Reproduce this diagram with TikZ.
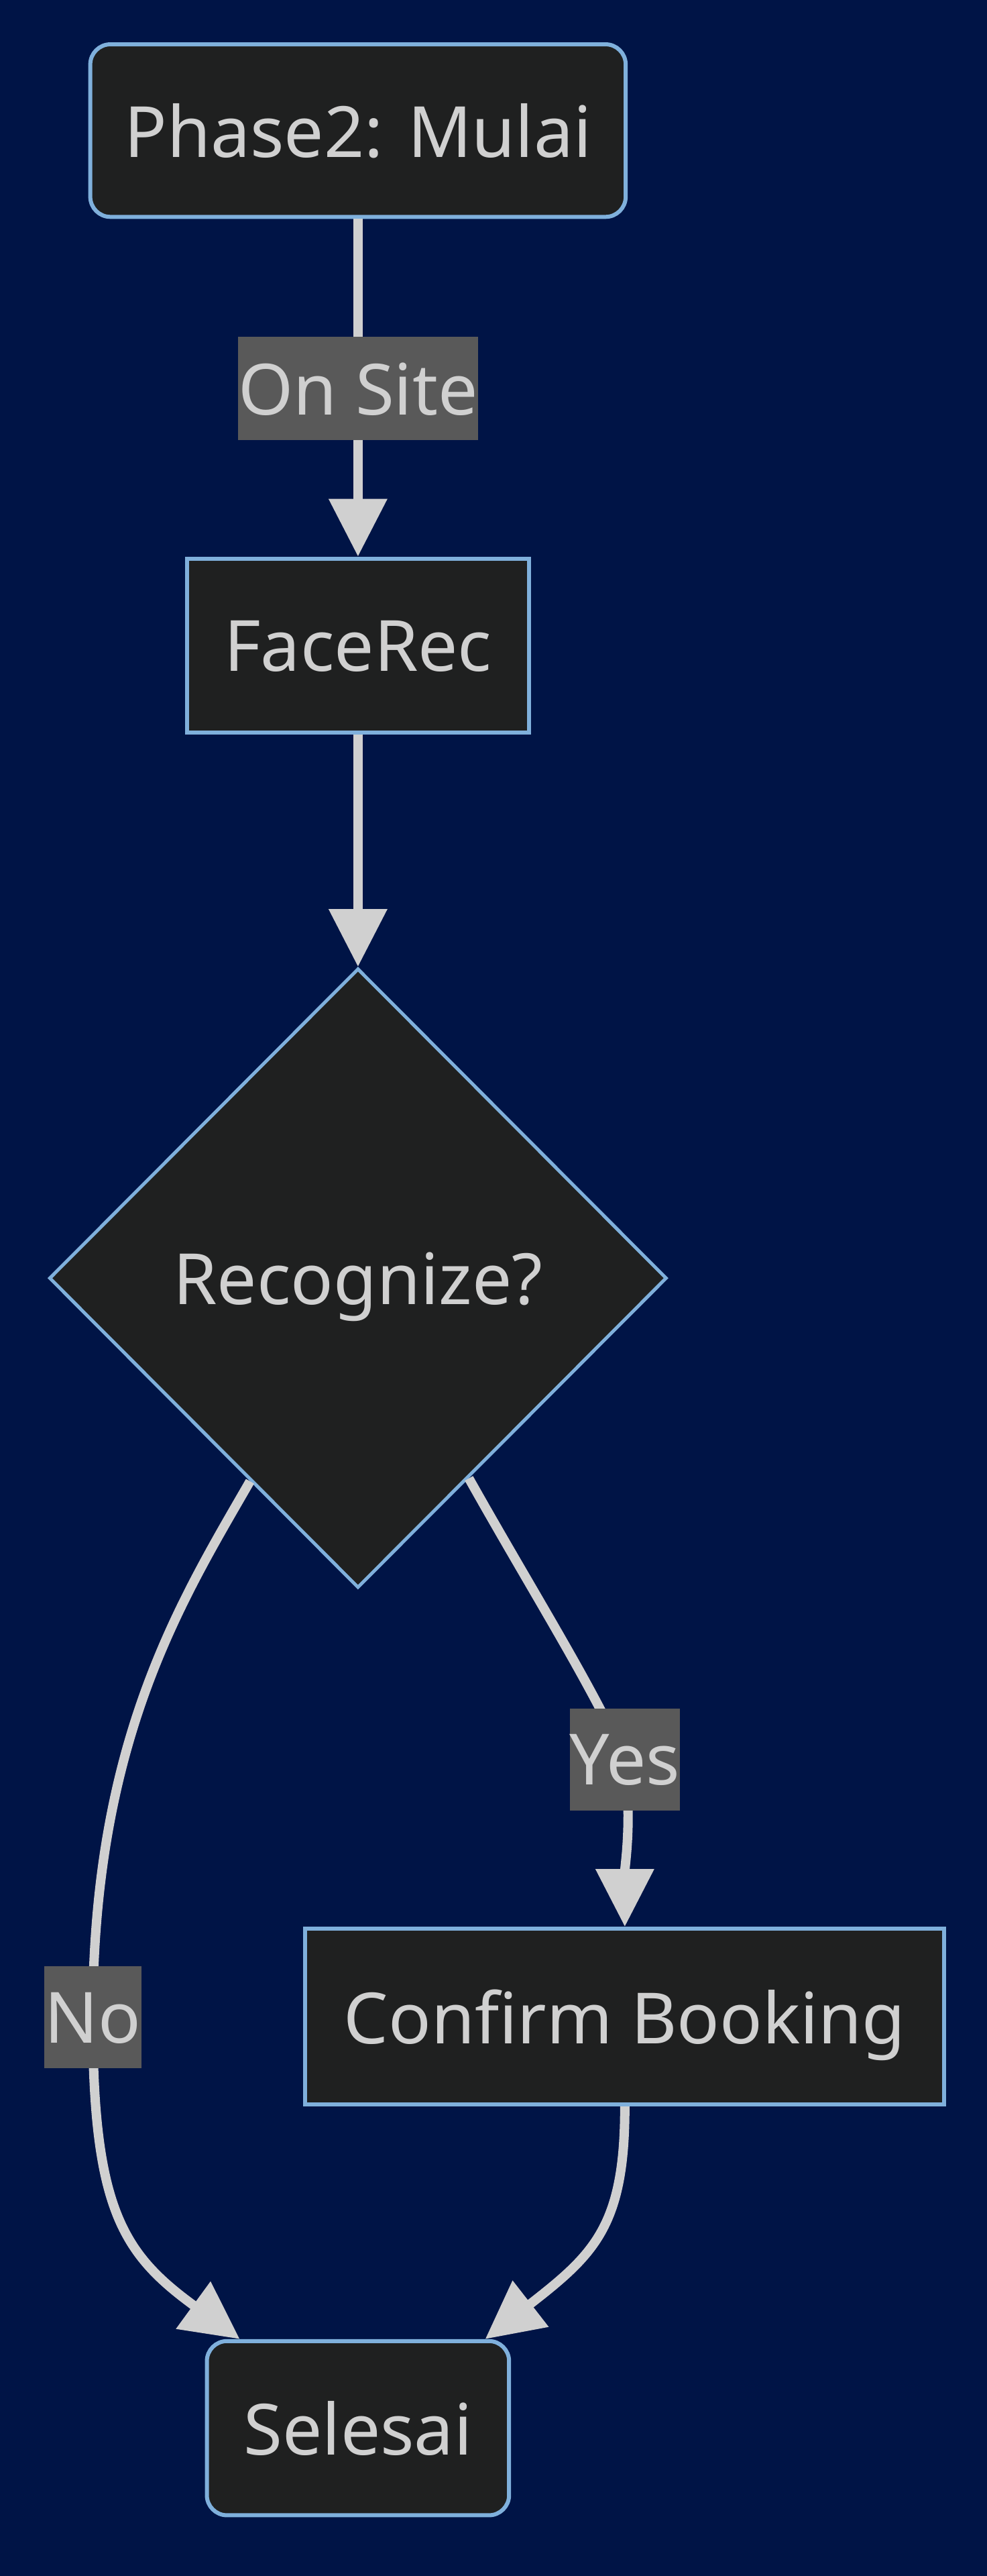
\documentclass[tikz,border=0pt]{standalone}
\usepackage{fontspec}
\setmainfont{Noto Sans}
\usetikzlibrary{shapes.geometric,arrows.meta}
\definecolor{bgc}{RGB}{0,20,70}
\definecolor{boxfill}{RGB}{31,32,32}
\definecolor{boxline}{RGB}{127,176,220}
\definecolor{txt}{RGB}{208,208,208}
\definecolor{lblfill}{RGB}{89,89,89}
\tikzset{
  base/.style={draw=boxline, fill=boxfill, text=txt, line width=0.06cm, inner sep=0pt,
    text depth=0pt, font=\fontsize{30}{36}\selectfont},
  rbox/.style={base, rectangle, rounded corners=0.3cm},
  sbox/.style={base, rectangle},
  dec/.style={base, diamond, line width=0.05cm},
  lbl/.style={fill=lblfill, text=txt, inner sep=0pt, text depth=0pt, font=\fontsize{30}{36}\selectfont},
  edge/.style={draw=txt, line width=0.14cm, -{Triangle[length=0.86cm,width=0.84cm]}}
}
\begin{document}
\begin{tikzpicture}[x=0.02451cm, y=-0.02451cm]
\fill[bgc] (0,0) rectangle (601,1568);
\useasboundingbox (0,0) rectangle (601,1568);
\node[rbox, minimum width=7.99cm, minimum height=2.574cm] (p) at (218,79.5) {Phase2: Mulai};
\node[sbox, minimum width=5.098cm, minimum height=2.598cm] (f) at (218,393) {FaceRec};
\node[dec, minimum width=9.216cm, minimum height=9.24cm] (d) at (218,778) {Recognize?};
\node[sbox, minimum width=9.534cm, minimum height=2.623cm] (c) at (380.5,1227.5) {Confirm Booking};
\node[rbox, minimum width=4.51cm, minimum height=2.598cm] (s) at (218,1478) {Selesai};

\coordinate (onc) at (218,236.5);
\coordinate (yesc) at (380.5,1071);
\coordinate (noc) at (56.5,1228);

\draw[edge] (p.south) -- (f.north);
\draw[edge] (f.south) -- (d.north);
\draw[edge] (d.-118) .. controls (110,975) and (56.5,1060) .. (noc) .. controls (56.5,1345) and (75,1372) .. (s.143);
\draw[edge] (d.-61) .. controls (325,970) and (360,1025) .. (yesc) .. controls (385,1110) and (380.5,1135) .. (c.north);
\draw[edge] (c.south) .. controls (380.5,1355) and (362,1372) .. (s.35.6);

\node[lbl, minimum width=3.578cm, minimum height=1.544cm] (on) at (onc) {On Site};
\node[lbl, minimum width=1.642cm, minimum height=1.52cm] (yes) at (yesc) {Yes};
\node[lbl, minimum width=1.446cm, minimum height=1.52cm] (no) at (noc) {No};
\end{tikzpicture}
\end{document}
